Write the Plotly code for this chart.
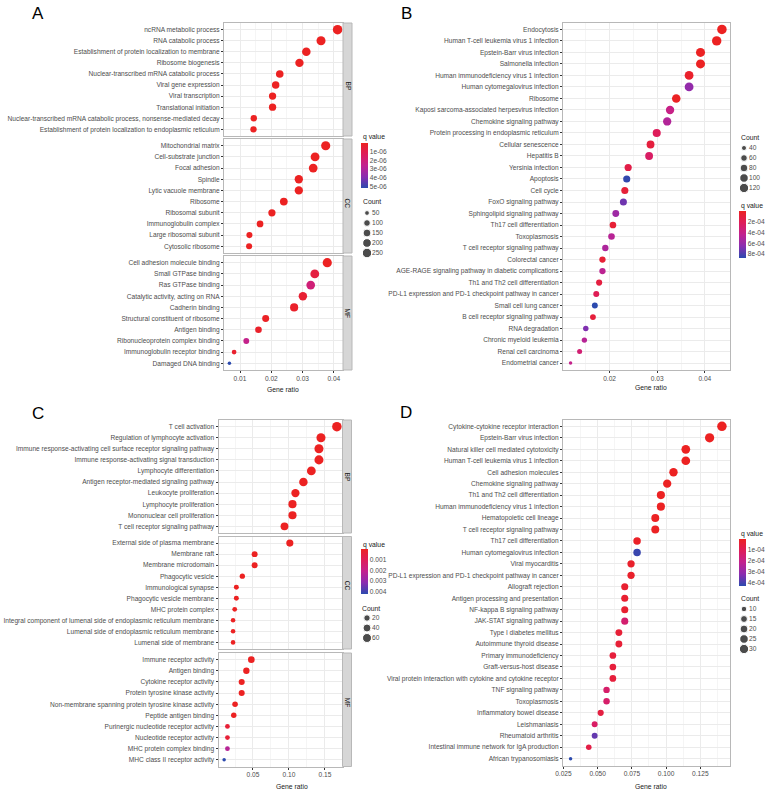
import plotly.graph_objects as go

W, H = 769, 792
FONT = "Liberation Sans, Arial, sans-serif"
TXT = "#4D4D4D"
FS = 6.6

# ---------------- A: GO enrichment (BP / CC / MF) ----------------
a_bp_terms = ["ncRNA metabolic process", "RNA catabolic process",
              "Establishment of protein localization to membrane", "Ribosome biogenesis",
              "Nuclear-transcribed mRNA catabolic process", "Viral gene expression",
              "Viral transcription", "Translational initiation",
              "Nuclear-transcribed mRNA catabolic process, nonsense-mediated decay",
              "Establishment of protein localization to endoplasmic reticulum"]
a_bp_ratio = [0.0412, 0.0359, 0.0312, 0.0290, 0.0227, 0.0214, 0.0204, 0.0204, 0.0144, 0.0143]
a_bp_count = [251, 219, 190, 177, 138, 131, 124, 124, 88, 87]
a_bp_q = [2e-12, 5e-11, 1e-10, 3e-10, 1e-09, 2e-09, 3e-09, 3e-09, 2e-08, 2e-08]

a_cc_terms = ["Mitochondrial matrix", "Cell-substrate junction", "Focal adhesion", "Spindle",
              "Lytic vacuole membrane", "Ribosome", "Ribosomal subunit", "Immunoglobulin complex",
              "Large ribosomal subunit", "Cytosolic ribosome"]
a_cc_ratio = [0.0374, 0.0340, 0.0334, 0.0288, 0.0288, 0.0240, 0.0202, 0.0164, 0.0130, 0.0129]
a_cc_count = [228, 207, 204, 176, 176, 146, 123, 100, 79, 79]
a_cc_q = [1e-12, 1e-11, 2e-11, 5e-10, 5e-10, 1e-09, 4e-09, 1e-08, 3e-08, 3e-08]

a_mf_terms = ["Cell adhesion molecule binding", "Small GTPase binding", "Ras GTPase binding",
              "Catalytic activity, acting on RNA", "Cadherin binding",
              "Structural constituent of ribosome", "Antigen binding",
              "Ribonucleoprotein complex binding", "Immunoglobulin receptor binding",
              "Damaged DNA binding"]
a_mf_ratio = [0.0379, 0.0339, 0.0326, 0.0301, 0.0273, 0.0182, 0.0159, 0.0120, 0.0081, 0.0066]
a_mf_count = [231, 207, 199, 184, 167, 111, 97, 73, 49, 40]
a_mf_q = [1e-09, 7e-07, 2.0e-06, 4e-07, 2e-07, 1e-07, 2e-07, 2.5e-06, 3e-07, 5.2e-06]

a_q_ticks = [1e-06, 2e-06, 3e-06, 4e-06, 5e-06]
a_q_labels = ["1e-06", "2e-06", "3e-06", "4e-06", "5e-06"]
a_count_levels = [50, 100, 150, 200, 250]

# ---------------- B: KEGG ----------------
b_terms = ["Endocytosis", "Human T-cell leukemia virus 1 infection", "Epstein-Barr virus infection",
           "Salmonella infection", "Human immunodeficiency virus 1 infection",
           "Human cytomegalovirus infection", "Ribosome",
           "Kaposi sarcoma-associated herpesvirus infection", "Chemokine signaling pathway",
           "Protein processing in endoplasmic reticulum", "Cellular senescence", "Hepatitis B",
           "Yersinia infection", "Apoptosis", "Cell cycle", "FoxO signaling pathway",
           "Sphingolipid signaling pathway", "Th17 cell differentiation", "Toxoplasmosis",
           "T cell receptor signaling pathway", "Colorectal cancer",
           "AGE-RAGE signaling pathway in diabetic complications",
           "Th1 and Th2 cell differentiation",
           "PD-L1 expression and PD-1 checkpoint pathway in cancer", "Small cell lung cancer",
           "B cell receptor signaling pathway", "RNA degradation", "Chronic myeloid leukemia",
           "Renal cell carcinoma", "Endometrial cancer"]
b_ratio = [0.0436, 0.0425, 0.0391, 0.0391, 0.0367, 0.0367, 0.0340, 0.0327, 0.0321, 0.0299,
           0.0286, 0.0283, 0.0239, 0.0236, 0.0232, 0.0229, 0.0213, 0.0207, 0.0204, 0.0191,
           0.0185, 0.0185, 0.0178, 0.0172, 0.0169, 0.0165, 0.0150, 0.0147, 0.0137, 0.0118]
b_count = [126, 123, 113, 113, 106, 106, 99, 95, 93, 87, 83, 82, 69, 68, 67, 66, 62, 60, 59, 55,
           54, 54, 52, 50, 49, 48, 44, 43, 40, 34]
b_q = [1e-06, 2e-06, 5e-06, 6e-06, 4e-05, 6.2e-04, 1e-05, 4e-04, 5e-04, 2.2e-04,
       1.1e-04, 2.6e-04, 1.5e-04, 8.6e-04, 9e-05, 7.2e-04, 5.8e-04, 8e-05, 4.8e-04, 5.2e-04,
       8e-05, 4.6e-04, 1.2e-04, 2e-04, 8.75e-04, 1e-04, 6.8e-04, 4.8e-04, 3.2e-04, 4.2e-04]
b_q_ticks = [2e-04, 4e-04, 6e-04, 8e-04]
b_q_labels = ["2e-04", "4e-04", "6e-04", "8e-04"]
b_count_levels = [40, 60, 80, 100, 120]

# ---------------- C: GO enrichment (BP / CC / MF) ----------------
c_bp_terms = ["T cell activation", "Regulation of lymphocyte activation",
              "Immune response-activating cell surface receptor signaling pathway",
              "Immune response-activating signal transduction", "Lymphocyte differentiation",
              "Antigen receptor-mediated signaling pathway", "Leukocyte proliferation",
              "Lymphocyte proliferation", "Mononuclear cell proliferation",
              "T cell receptor signaling pathway"]
c_bp_ratio = [0.1666, 0.1445, 0.1417, 0.1417, 0.1311, 0.1201, 0.1090, 0.1049, 0.1049, 0.0938]
c_bp_count = [70, 61, 60, 60, 55, 50, 46, 44, 44, 39]
c_bp_q = [1e-20, 1e-16, 1e-15, 1e-15, 1e-14, 1e-13, 1e-12, 1e-12, 1e-12, 1e-11]

c_cc_terms = ["External side of plasma membrane", "Membrane raft", "Membrane microdomain",
              "Phagocytic vesicle", "Immunological synapse", "Phagocytic vesicle membrane",
              "MHC protein complex",
              "Integral component of lumenal side of endoplasmic reticulum membrane",
              "Lumenal side of endoplasmic reticulum membrane", "Lumenal side of membrane"]
c_cc_ratio = [0.1012, 0.0523, 0.0523, 0.0352, 0.0269, 0.0269, 0.0246, 0.0223, 0.0223, 0.0223]
c_cc_count = [28, 15, 15, 10, 8, 8, 7, 6, 6, 6]
c_cc_q = [1e-12, 1e-07, 1e-07, 1e-06, 5e-06, 5e-06, 1e-05, 2e-05, 2e-05, 2e-05]

c_mf_terms = ["Immune receptor activity", "Antigen binding", "Cytokine receptor activity",
              "Protein tyrosine kinase activity",
              "Non-membrane spanning protein tyrosine kinase activity", "Peptide antigen binding",
              "Purinergic nucleotide receptor activity", "Nucleotide receptor activity",
              "MHC protein complex binding", "MHC class II receptor activity"]
c_mf_ratio = [0.0477, 0.0408, 0.0343, 0.0343, 0.0251, 0.0233, 0.0145, 0.0145, 0.0145, 0.0099]
c_mf_count = [22, 19, 16, 16, 12, 11, 7, 7, 7, 4]
c_mf_q = [1e-09, 1e-08, 1e-07, 1e-07, 2e-06, 5e-06, 4e-04, 4e-04, 2.3e-03, 4.2e-03]

c_q_ticks = [0.001, 0.002, 0.003, 0.004]
c_q_labels = ["0.001", "0.002", "0.003", "0.004"]
c_count_levels = [20, 40, 60]

# ---------------- D: KEGG ----------------
d_terms = ["Cytokine-cytokine receptor interaction", "Epstein-Barr virus infection",
           "Natural killer cell mediated cytotoxicity", "Human T-cell leukemia virus 1 infection",
           "Cell adhesion molecules", "Chemokine signaling pathway",
           "Th1 and Th2 cell differentiation", "Human immunodeficiency virus 1 infection",
           "Hematopoietic cell lineage", "T cell receptor signaling pathway",
           "Th17 cell differentiation", "Human cytomegalovirus infection", "Viral myocarditis",
           "PD-L1 expression and PD-1 checkpoint pathway in cancer", "Allograft rejection",
           "Antigen processing and presentation", "NF-kappa B signaling pathway",
           "JAK-STAT signaling pathway", "Type I diabetes mellitus", "Autoimmune thyroid disease",
           "Primary immunodeficiency", "Graft-versus-host disease",
           "Viral protein interaction with cytokine and cytokine receptor",
           "TNF signaling pathway", "Toxoplasmosis", "Inflammatory bowel disease",
           "Leishmaniasis", "Rheumatoid arthritis",
           "Intestinal immune network for IgA production", "African trypanosomiasis"]
d_ratio = [0.1408, 0.1318, 0.1144, 0.1144, 0.1054, 0.1008, 0.0962, 0.0962, 0.0921, 0.0921,
           0.0788, 0.0788, 0.0744, 0.0744, 0.0698, 0.0698, 0.0698, 0.0698, 0.0655, 0.0655,
           0.0611, 0.0611, 0.0611, 0.0565, 0.0565, 0.0522, 0.0478, 0.0478, 0.0435, 0.0302]
d_count = [32, 30, 26, 26, 24, 23, 22, 22, 21, 21, 18, 18, 17, 17, 16, 16, 16, 16, 15, 15,
           14, 14, 14, 13, 13, 12, 11, 11, 10, 7]
d_q = [1e-09, 1e-08, 1e-07, 1e-07, 5e-07, 1e-06, 2e-06, 2e-06, 3e-06, 3e-06,
       1e-05, 4.2e-04, 2e-05, 2e-05, 3e-05, 3e-05, 3e-05, 1.5e-04, 4e-05, 4e-05,
       5e-05, 5e-05, 5e-05, 1.4e-04, 1.4e-04, 6e-05, 1.3e-04, 3.7e-04, 7e-05, 4.35e-04]
d_q_ticks = [1e-04, 2e-04, 3e-04, 4e-04]
d_q_labels = ["1e-04", "2e-04", "3e-04", "4e-04"]
d_count_levels = [10, 15, 20, 25, 30]


def fx(p):
    return p / W


def fy(p):
    return 1 - p / H


def dot_size(vals, lo, hi, dmin=3.5, dmax=9.5):
    # ggplot-like area scaling between the data limits
    return [dmin + ((v - lo) / (hi - lo)) ** 0.5 * (dmax - dmin) for v in vals]


# red (small q) at the top of the bar, blue (large q) at the bottom
qscale = [[0, "#2C4AAE"], [0.25, "#8A2DB0"], [0.5, "#C2228F"], [0.75, "#DE1C5A"], [1, "#EC2222"]]

panels = [
    dict(letter="A", letter_pos=(30, 14),
         facets=[(a_bp_terms, a_bp_ratio, a_bp_count, a_bp_q, "BP", (23, 136)),
                 (a_cc_terms, a_cc_ratio, a_cc_count, a_cc_q, "CC", (139, 253)),
                 (a_mf_terms, a_mf_ratio, a_mf_count, a_mf_q, "MF", (256, 370))],
         xdom=(224, 343), dtick=0.01, fmt=".2f",
         qt=a_q_ticks, ql=a_q_labels, cbar=(361, 143, 45), qtitle=(361, 137),
         levels=a_count_levels, leg=(363, 371, 208, 258), ctitle=(361, 202),
         gr=(283, 389)),
    dict(letter="B", letter_pos=(399, 14),
         facets=[(b_terms, b_ratio, b_count, b_q, None, (22.5, 370))],
         xdom=(563, 729.5), dtick=0.01, fmt=".2f",
         qt=b_q_ticks, ql=b_q_labels, cbar=(739, 211, 47), qtitle=(739, 206),
         levels=b_count_levels, leg=(740, 748, 143, 193), ctitle=(739, 137),
         gr=(651, 388)),
    dict(letter="C", letter_pos=(30, 413),
         facets=[(c_bp_terms, c_bp_ratio, c_bp_count, c_bp_q, "BP", (420, 533)),
                 (c_cc_terms, c_cc_ratio, c_cc_count, c_cc_q, "CC", (536.5, 649)),
                 (c_mf_terms, c_mf_ratio, c_mf_count, c_mf_q, "MF", (653, 766.5))],
         xdom=(218.5, 342.5), dtick=0.05, fmt=".2f",
         qt=c_q_ticks, ql=c_q_labels, cbar=(361, 549, 45), qtitle=(361, 545),
         levels=c_count_levels, leg=(363, 371, 613, 643), ctitle=(360, 608),
         gr=(292, 786)),
    dict(letter="D", letter_pos=(398, 412),
         facets=[(d_terms, d_ratio, d_count, d_q, None, (419.5, 765.5))],
         xdom=(563, 729.5), dtick=0.025, fmt=".3f",
         qt=d_q_ticks, ql=d_q_labels, cbar=(739, 539, 47), qtitle=(739, 534),
         levels=d_count_levels, leg=(740, 748, 604, 654), ctitle=(739, 598),
         gr=(651, 786)),
]

fig = go.Figure()
layout = {}
shapes = []
annotations = []
ax = 0

for pi, p in enumerate(panels):
    cax = "coloraxis" if pi == 0 else "coloraxis%d" % (pi + 1)
    all_counts = [c for f in p["facets"] for c in f[2]]
    all_ratio = [r for f in p["facets"] for r in f[1]]
    lo, hi = min(all_counts), max(all_counts)
    span = max(all_ratio) - min(all_ratio)
    xr = [min(all_ratio) - 0.05 * span, max(all_ratio) + 0.05 * span]

    for fi, (terms, ratio, count, q, strip, (ytop, ybot)) in enumerate(p["facets"]):
        ax += 1
        sfx = "" if ax == 1 else str(ax)
        last = fi == len(p["facets"]) - 1
        layout["xaxis" + sfx] = dict(
            domain=[fx(p["xdom"][0]), fx(p["xdom"][1])], anchor="y" + sfx, range=xr,
            dtick=p["dtick"], tick0=0, tickformat=p["fmt"], showticklabels=last,
            ticks="outside" if last else "", ticklen=2, tickwidth=0.6, tickcolor="#333333",
            tickfont=dict(size=FS, color=TXT, family=FONT),
            showline=True, mirror=True, linecolor="#B8B8B8", linewidth=1,
            showgrid=True, gridcolor="#EBEBEB", gridwidth=0.6, zeroline=False,
            minor=dict(dtick=p["dtick"] / 2, showgrid=True, gridcolor="#F5F5F5", gridwidth=0.4),
        )
        layout["yaxis" + sfx] = dict(
            domain=[fy(ybot), fy(ytop)], anchor="x" + sfx, type="category",
            categoryorder="array", categoryarray=terms,
            range=[len(terms) - 0.4, -0.6],
            ticks="outside", ticklen=2, tickwidth=0.6, tickcolor="#333333",
            tickfont=dict(size=FS, color=TXT, family=FONT),
            showline=True, mirror=True, linecolor="#B8B8B8", linewidth=1,
            showgrid=True, gridcolor="#EBEBEB", gridwidth=0.6, zeroline=False,
        )
        fig.add_trace(go.Scatter(
            x=ratio, y=terms, mode="markers", xaxis="x" + sfx, yaxis="y" + sfx,
            marker=dict(size=dot_size(count, lo, hi), color=[-v for v in q], coloraxis=cax,
                        line=dict(width=0), opacity=1),
            showlegend=False, hoverinfo="x+y"))
        if strip:
            x0, x1 = p["xdom"][1], p["xdom"][1] + 9
            shapes.append(dict(type="rect", xref="paper", yref="paper",
                               x0=fx(x0), x1=fx(x1), y0=fy(ybot), y1=fy(ytop),
                               fillcolor="#D6D6D6", line=dict(color="#B8B8B8", width=1)))
            annotations.append(dict(text=strip, x=fx((x0 + x1) / 2), y=fy((ytop + ybot) / 2),
                                    xref="paper", yref="paper", showarrow=False, textangle=90,
                                    font=dict(size=FS, color="#1A1A1A", family=FONT)))

    # colour bar
    cx, cy, clen = p["cbar"]
    layout[cax] = dict(
        colorscale=qscale,
        colorbar=dict(x=fx(cx), xanchor="left", y=fy(cy), yanchor="top",
                      len=clen, lenmode="pixels", thickness=7, thicknessmode="pixels",
                      xpad=0, ypad=0, outlinewidth=0, ticks="",
                      tickvals=[-v for v in p["qt"]], ticktext=p["ql"],
                      tickfont=dict(size=FS, color=TXT, family=FONT)))

    # size legend on a small helper axis
    ax += 1
    sfx = str(ax)
    lx0, lx1, ly0, ly1 = p["leg"]
    labels = [str(v) for v in p["levels"]]
    layout["xaxis" + sfx] = dict(domain=[fx(lx0), fx(lx1)], anchor="y" + sfx, range=[-1, 1],
                                 visible=False)
    layout["yaxis" + sfx] = dict(domain=[fy(ly1), fy(ly0)], anchor="x" + sfx, type="category",
                                 categoryorder="array", categoryarray=labels,
                                 range=[len(labels) - 0.5, -0.5], side="right",
                                 showgrid=False, zeroline=False, showline=False, ticks="",
                                 tickfont=dict(size=FS, color=TXT, family=FONT))
    fig.add_trace(go.Scatter(x=[0] * len(labels), y=labels, mode="markers",
                             xaxis="x" + sfx, yaxis="y" + sfx,
                             marker=dict(size=dot_size(p["levels"], lo, hi), color="black"),
                             showlegend=False, hoverinfo="skip"))

    # texts
    annotations.append(dict(text=p["letter"], x=fx(p["letter_pos"][0]), y=fy(p["letter_pos"][1]),
                            xref="paper", yref="paper", xanchor="left", yanchor="middle",
                            showarrow=False, font=dict(size=17, color="black", family=FONT)))
    annotations.append(dict(text="q value", x=fx(p["qtitle"][0]), y=fy(p["qtitle"][1]),
                            xref="paper", yref="paper", xanchor="left", yanchor="middle",
                            showarrow=False, font=dict(size=6.8, color="#1A1A1A", family=FONT)))
    annotations.append(dict(text="Count", x=fx(p["ctitle"][0]), y=fy(p["ctitle"][1]),
                            xref="paper", yref="paper", xanchor="left", yanchor="middle",
                            showarrow=False, font=dict(size=6.8, color="#1A1A1A", family=FONT)))
    annotations.append(dict(text="Gene ratio", x=fx(p["gr"][0]), y=fy(p["gr"][1]),
                            xref="paper", yref="paper", xanchor="center", yanchor="middle",
                            showarrow=False, font=dict(size=6.8, color="#1A1A1A", family=FONT)))

fig.update_layout(
    width=W, height=H, margin=dict(l=0, r=0, t=0, b=0, pad=0, autoexpand=False),
    paper_bgcolor="white", plot_bgcolor="white",
    font=dict(family=FONT, size=FS, color=TXT),
    showlegend=False, shapes=shapes, annotations=annotations,
    **layout,
)

# the page body has a default 8px margin; drop it so the figure fills the window
fig.write_html("out.html", config={"displayModeBar": False},
               post_script="document.body.style.margin='0';")
